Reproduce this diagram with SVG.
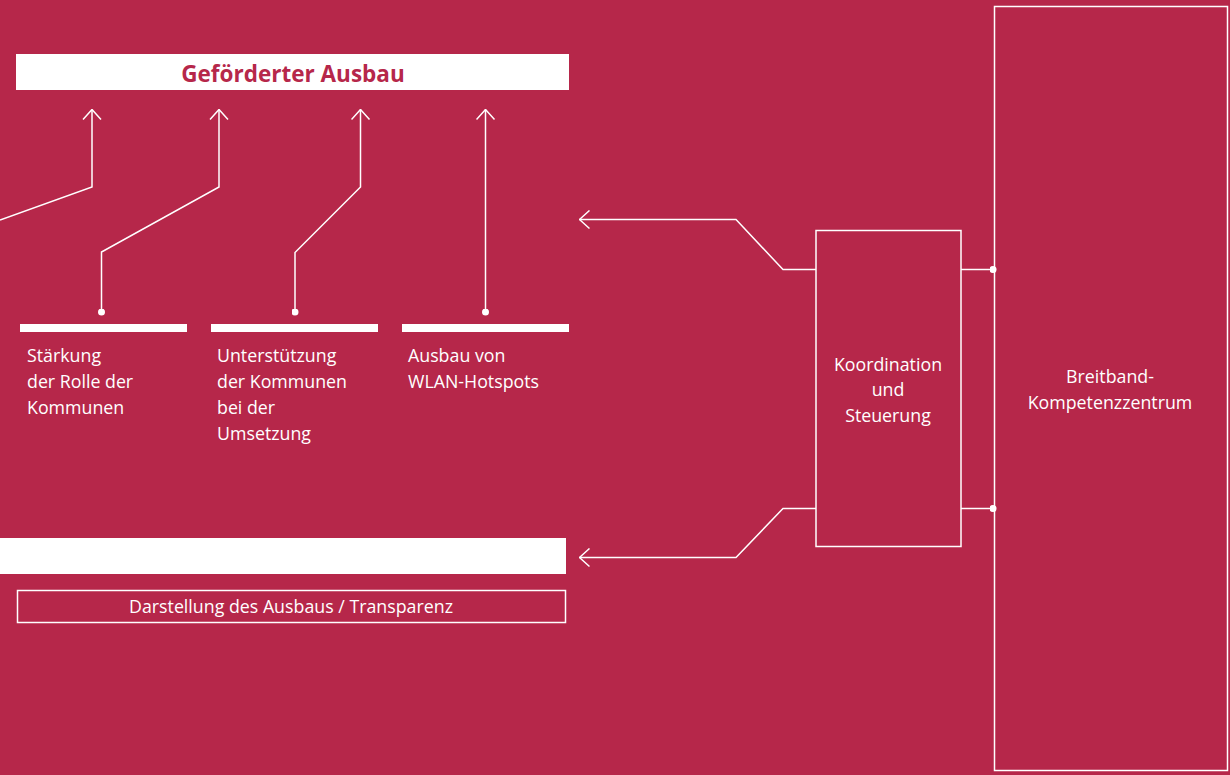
<svg xmlns="http://www.w3.org/2000/svg" width="1230" height="775" viewBox="0 0 1230 775">
<defs>
<style>
.bg{fill:#B6274A}
.t{font-family:"Open Sans","Noto Sans","Liberation Sans",sans-serif;font-size:17.8px;fill:#FFFFFF}
.title{font-family:"Open Sans","Noto Sans","Liberation Sans",sans-serif;font-size:22.5px;font-weight:bold;fill:#B6274A}
.ln{fill:none;stroke:#FFFFFF;stroke-width:1.5}
.box{fill:none;stroke:#FFFFFF;stroke-width:1.5}
.bar{fill:#FFFFFF}
</style>
<marker id="ah" viewBox="0 0 12 20" refX="11" refY="10" markerWidth="12" markerHeight="20" markerUnits="userSpaceOnUse" orient="auto">
<path d="M1 1 L11 10 L1 19" fill="none" stroke="#FFFFFF" stroke-width="1.5"/>
</marker>
<marker id="dot" viewBox="0 0 8 8" refX="4" refY="4" markerWidth="7" markerHeight="7" markerUnits="userSpaceOnUse">
<circle cx="4" cy="4" r="4" fill="#FFFFFF"/>
</marker>
</defs>
<rect class="bg" x="0" y="0" width="1230" height="775"/>

<g id="gefoerderter-ausbau">
<rect class="bar" x="16" y="54" width="553" height="36"/>
<text class="title" x="293" y="82" text-anchor="middle">Geförderter Ausbau</text>
</g>

<g id="staerkung">
<rect class="bar" x="20" y="324" width="167" height="8"/>
<text class="t" x="27" y="362">Stärkung</text>
<text class="t" x="27" y="388">der Rolle der</text>
<text class="t" x="27" y="414">Kommunen</text>
</g>

<g id="unterstuetzung">
<rect class="bar" x="211" y="324" width="167" height="8"/>
<text class="t" x="217" y="362">Unterstützung</text>
<text class="t" x="217" y="388">der Kommunen</text>
<text class="t" x="217" y="414">bei der</text>
<text class="t" x="217" y="440">Umsetzung</text>
</g>

<g id="wlan">
<rect class="bar" x="402" y="324" width="167" height="8"/>
<text class="t" x="408" y="362">Ausbau von</text>
<text class="t" x="408" y="388">WLAN-Hotspots</text>
</g>

<g id="bottom-bar">
<rect class="bar" x="0" y="538" width="566" height="36"/>
</g>

<g id="darstellung">
<rect class="box" x="17.5" y="590.5" width="548" height="32"/>
<text class="t" x="291" y="613" text-anchor="middle">Darstellung des Ausbaus / Transparenz</text>
</g>

<g id="koordination">
<rect class="box" x="816" y="230.5" width="145" height="316"/>
<text class="t" x="888" y="371" text-anchor="middle">Koordination</text>
<text class="t" x="888" y="396" text-anchor="middle">und</text>
<text class="t" x="888" y="422" text-anchor="middle">Steuerung</text>
</g>

<g id="breitband">
<rect class="box" x="994.5" y="6.5" width="233" height="764"/>
<text class="t" x="1110" y="383" text-anchor="middle">Breitband-</text>
<text class="t" x="1110" y="409" text-anchor="middle">Kompetenzzentrum</text>
</g>

<g id="connectors">
<path class="ln" d="M0 220 L92 187 L92 109.5" marker-end="url(#ah)"/>
<path class="ln" d="M101.5 312 L101.5 252 L219 187 L219 109.5" marker-end="url(#ah)" marker-start="url(#dot)"/>
<path class="ln" d="M295 312 L295 252.5 L360.5 187 L360.5 109.5" marker-end="url(#ah)" marker-start="url(#dot)"/>
<path class="ln" d="M485.5 312 L485.5 109.5" marker-end="url(#ah)" marker-start="url(#dot)"/>
<path class="ln" d="M816 269.5 L783 269.5 L736 219.5 L579.5 219.5" marker-end="url(#ah)"/>
<path class="ln" d="M816 508.5 L783 508.5 L736 557.5 L579.5 557.5" marker-end="url(#ah)"/>
<path class="ln" d="M961 269.5 L993 269.5" marker-end="url(#dot)"/>
<path class="ln" d="M961 508.5 L993 508.5" marker-end="url(#dot)"/>
</g>
</svg>
